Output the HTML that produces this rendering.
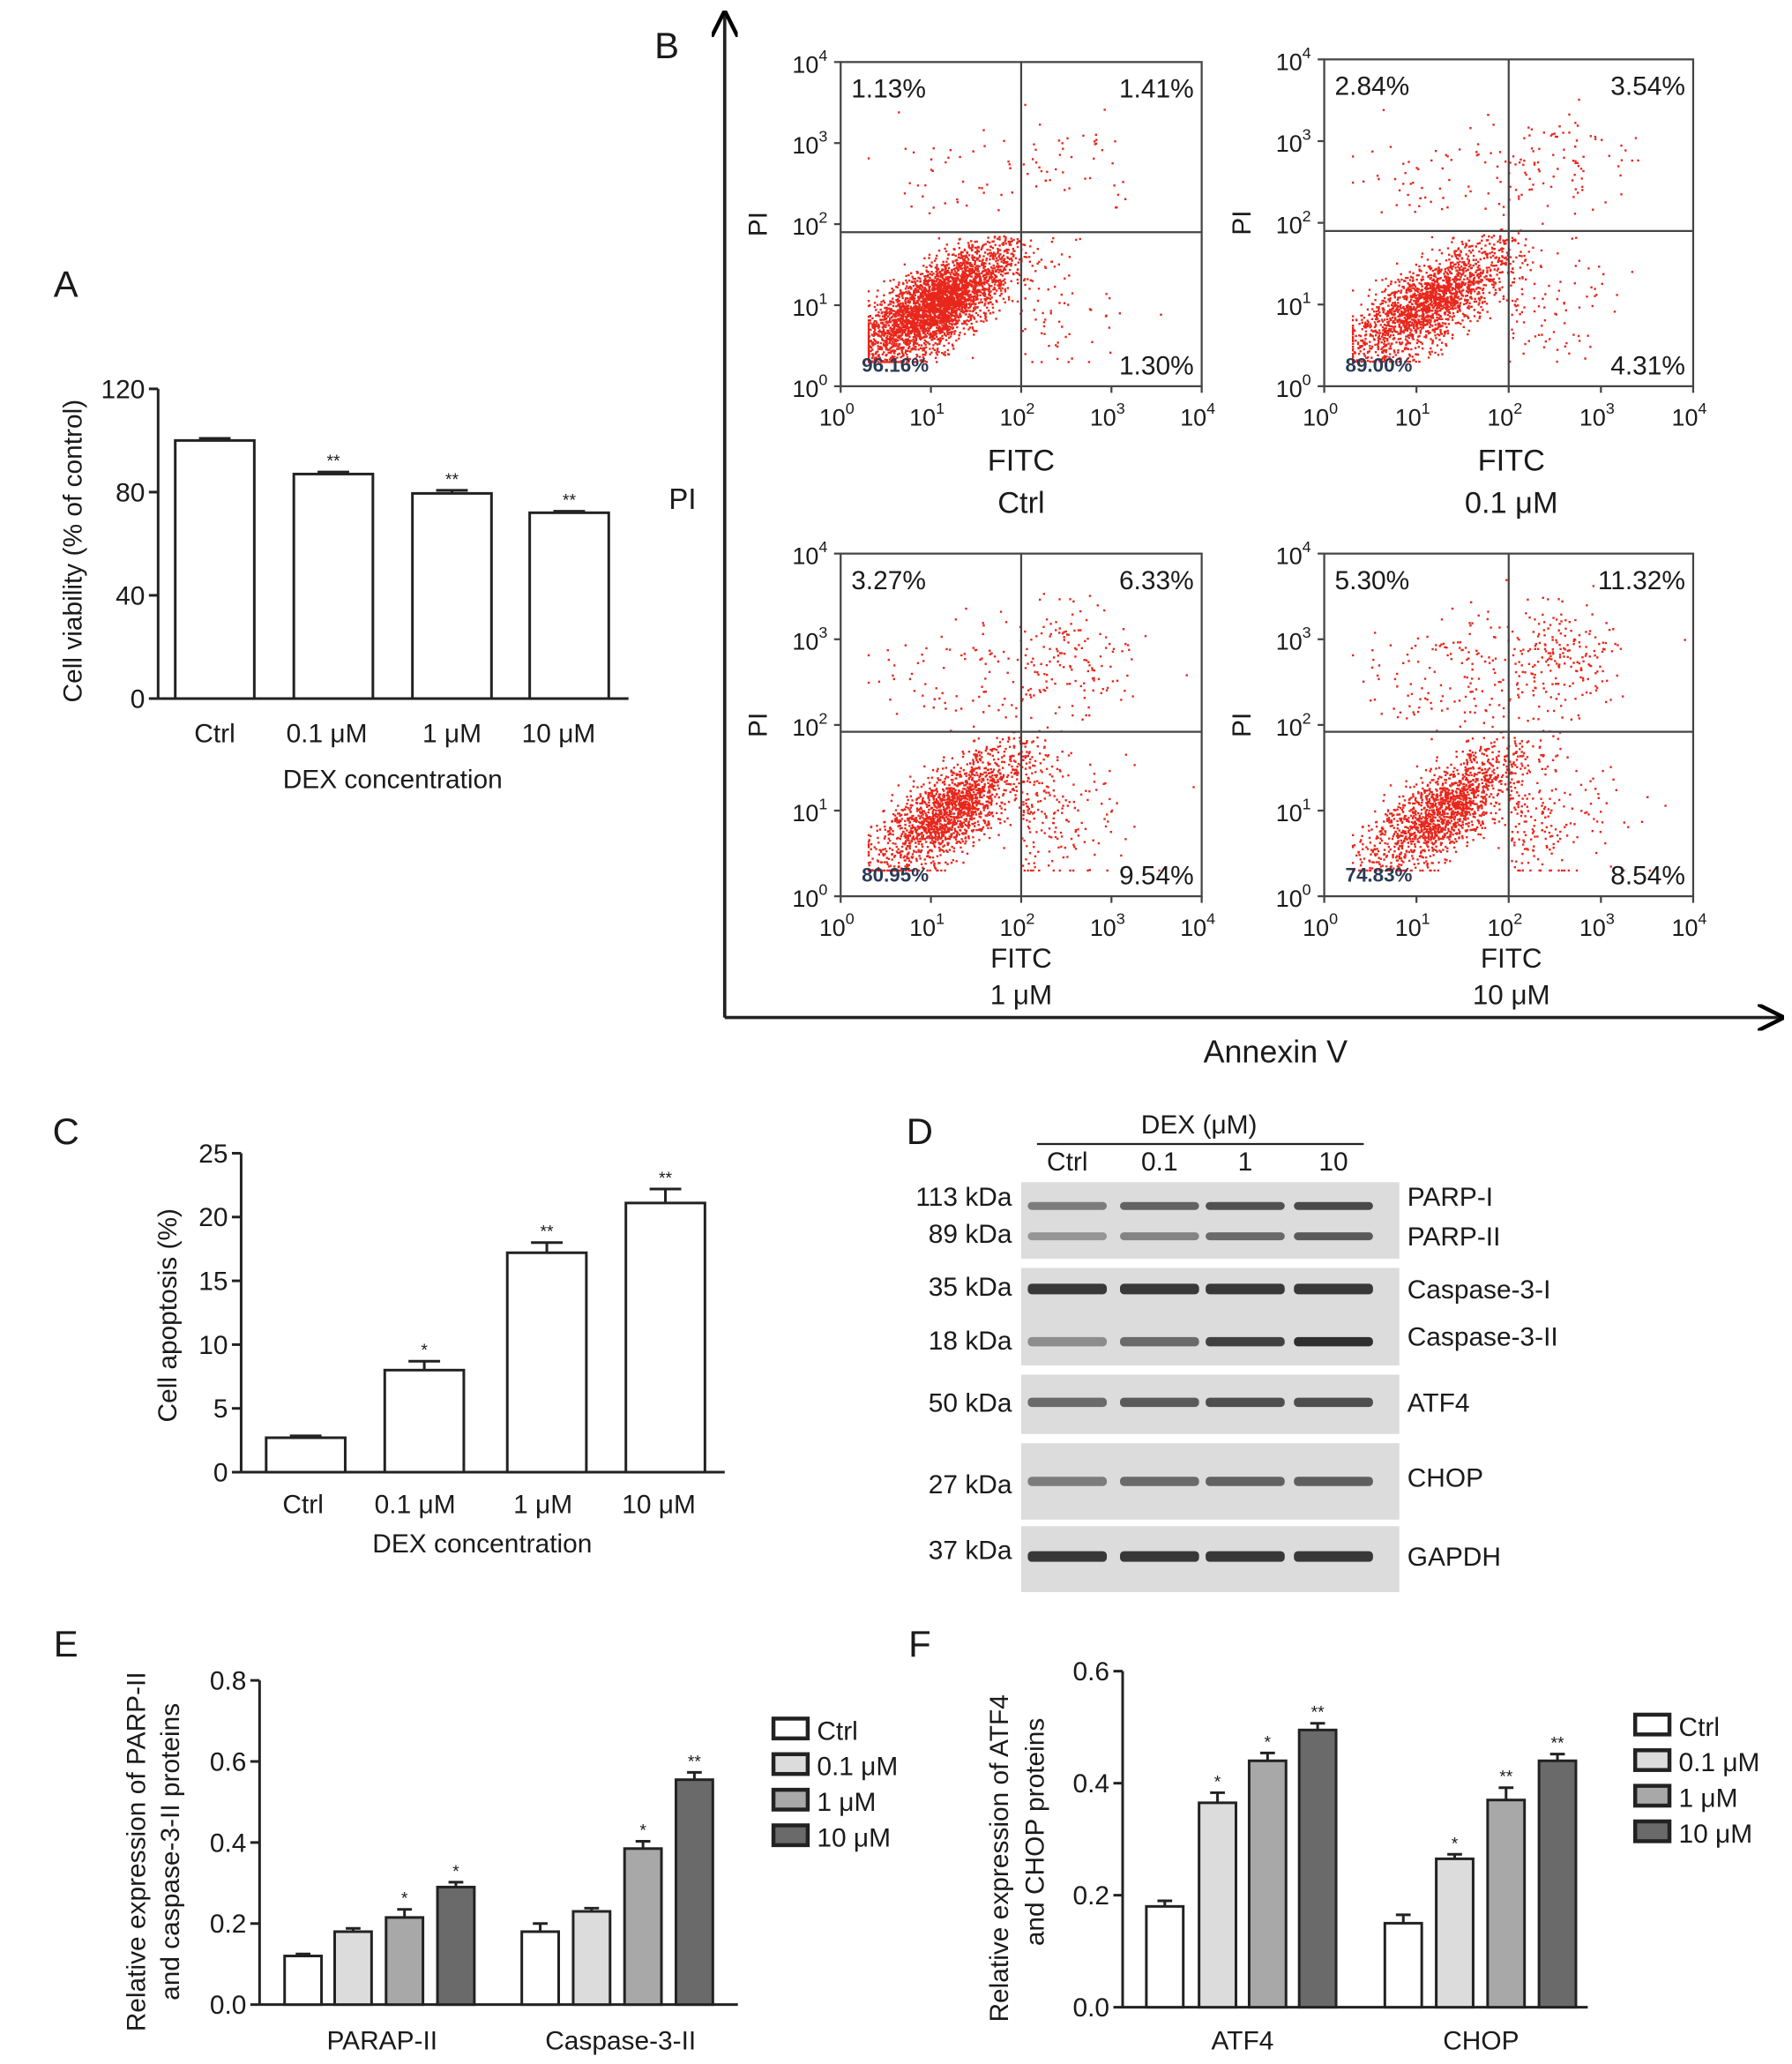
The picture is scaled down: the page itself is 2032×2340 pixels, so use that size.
<!DOCTYPE html>
<html><head><meta charset="utf-8"><style>
html,body{margin:0;padding:0;background:#fff;}
svg{display:block;font-family:"Liberation Sans",sans-serif;}
</style></head><body>
<svg id="fig" width="2032" height="2340" viewBox="0 0 1360 1566" xmlns="http://www.w3.org/2000/svg">
<defs>
<marker id="arr" viewBox="0 0 10 10" refX="9" refY="5" markerWidth="8" markerHeight="8" orient="auto"><path d="M0,0 L10,5 L0,10" fill="none" stroke="#000" stroke-width="1.5"/></marker>
</defs>
<g id="panelA"></g>
<g id="panelB"></g>
<g id="panelC"></g>
<g id="panelD"></g>
<g id="panelE"></g>
<g id="panelF"></g>
</svg>
<script>
// ---- data ----
const doseCats = ["Ctrl","0.1 μM","1 μM","10 μM"];
const viabilityVals = [100, 87, 79.5, 72];
const viabilityErr = [0.8, 0.8, 1.2, 0.6];
const viabilityStars = ["","**","**","**"];
const viabilityTicks = [0,40,80,120];
const apoptosisVals = [2.7, 8.0, 17.2, 21.1];
const apoptosisErr = [0.15, 0.7, 0.8, 1.1];
const apoptosisStars = ["","*","**","**"];
const apoptosisTicks = [0,5,10,15,20,25];
const eGroups = ["PARAP-II","Caspase-3-II"];
const eParp = [0.12, 0.18, 0.215, 0.29];
const eParpErr = [0.005, 0.008, 0.02, 0.012];
const eParpStars = ["","","*","*"];
const eCasp = [0.18, 0.23, 0.385, 0.555];
const eCaspErr = [0.02, 0.008, 0.018, 0.018];
const eCaspStars = ["","","*","**"];
const eTicks = [0.0,0.2,0.4,0.6,0.8];
const fGroups = ["ATF4","CHOP"];
const fAtf4 = [0.18, 0.365, 0.44, 0.495];
const fAtf4Err = [0.01, 0.018, 0.014, 0.012];
const fAtf4Stars = ["","*","*","**"];
const fChop = [0.15, 0.265, 0.37, 0.44];
const fChopErr = [0.015, 0.008, 0.022, 0.012];
const fChopStars = ["","*","**","**"];
const fTicks = [0.0,0.2,0.4,0.6];
const flowLabels = ["Ctrl","0.1 μM","1 μM","10 μM"];
const flowUL = [1.13, 2.84, 3.27, 5.30];
const flowUR = [1.41, 3.54, 6.33, 11.32];
const flowLL = [96.16, 89.00, 80.95, 74.83];
const flowLR = [1.30, 4.31, 9.54, 8.54];

const NS="http://www.w3.org/2000/svg";
function mk(parent,tag,attrs,name,text){
  const e=document.createElementNS(NS,tag);
  for(const k in attrs) e.setAttribute(k,attrs[k]);
  
  
  if(text!==undefined) e.textContent=text;
  parent.appendChild(e); return e;
}
function txt(p,x,y,s,size,anchor,name,extra){
  const a=Object.assign({x:x,y:y,'font-size':size,'text-anchor':anchor||'middle',fill:'#1a1a1a'},extra||{});
  return mk(p,'text',a,name,s);
}
const fills=["#ffffff","#dcdcdc","#a8a8a8","#6a6a6a"];

function barChart(g,cfg){
  const y=v=>cfg.y0-(v-cfg.vmin)/(cfg.vmax-cfg.vmin)*(cfg.y0-cfg.y1);
  mk(g,'line',{x1:cfg.x0,y1:cfg.y1,x2:cfg.x0,y2:cfg.y0,stroke:'#222','stroke-width':2},'y-axis');
  mk(g,'line',{x1:cfg.x0,y1:cfg.y0,x2:cfg.xEnd,y2:cfg.y0,stroke:'#222','stroke-width':2},'x-axis');
  cfg.ticks.forEach(t=>{
    mk(g,'line',{x1:cfg.x0-7,y1:y(t),x2:cfg.x0,y2:y(t),stroke:'#222','stroke-width':2},'y-tick');
    txt(g,cfg.x0-10,y(t)+7,cfg.fmt(t),20,'end','y-tick-label');
  });
  cfg.series.forEach(s=>{
    s.vals.forEach((v,i)=>{
      const cx=s.centers[i], w=s.width;
      const top=y(v);
      mk(g,'line',{x1:cx,y1:top,x2:cx,y2:y(v+s.err[i]),stroke:'#222','stroke-width':2},'error-bar');
      mk(g,'line',{x1:cx-w*0.2,y1:y(v+s.err[i]),x2:cx+w*0.2,y2:y(v+s.err[i]),stroke:'#222','stroke-width':2},'error-cap');
      mk(g,'rect',{x:cx-w/2,y:top,width:w,height:cfg.y0-top,fill:s.fills?s.fills[i]:'#fff',stroke:'#222','stroke-width':2},'bar-'+i);
      if(s.stars[i]) txt(g,cx,y(v+s.err[i])-4,s.stars[i],13,'middle','significance-mark');
    });
  });
}

(function(){
  const g=document.getElementById('panelA');
  txt(g,50,225,'A',28,'middle','panel-label-a');
  barChart(g,{x0:120,y0:530,y1:295,xEnd:477,vmin:0,vmax:120,ticks:viabilityTicks,fmt:t=>String(t),
    series:[{vals:viabilityVals,err:viabilityErr,stars:viabilityStars,centers:[163,253,343,432],width:60}]});
  doseCats.forEach((c,i)=>txt(g,[163,248,343,424][i],563,c,20,'middle','x-tick-label'));
  txt(g,298,598,'DEX concentration',20,'middle','x-axis-title');
  txt(g,0,0,'Cell viability (% of control)',20,'middle','y-axis-title',{transform:'translate(62,418) rotate(-90)'});
})();

(function(){
  const g=document.getElementById('panelC');
  txt(g,50,868,'C',28,'middle','panel-label-c');
  barChart(g,{x0:183,y0:1117,y1:875,xEnd:550,vmin:0,vmax:25,ticks:apoptosisTicks,fmt:t=>String(t),
    series:[{vals:apoptosisVals,err:apoptosisErr,stars:apoptosisStars,centers:[232,322,415,505],width:60}]});
  doseCats.forEach((c,i)=>txt(g,[230,315,412,500][i],1148,c,20,'middle','x-tick-label'));
  txt(g,366,1178,'DEX concentration',20,'middle','x-axis-title');
  txt(g,0,0,'Cell apoptosis (%)',20,'middle','y-axis-title',{transform:'translate(134,998) rotate(-90)'});
})();

(function(){
  const g=document.getElementById('panelE');
  txt(g,50,1257,'E',28,'middle','panel-label-e');
  barChart(g,{x0:197,y0:1521,y1:1275,xEnd:560,vmin:0,vmax:0.8,ticks:eTicks,fmt:t=>t.toFixed(1),
    series:[{vals:eParp,err:eParpErr,stars:eParpStars,centers:[230,268,307,346],width:28,fills:fills},
            {vals:eCasp,err:eCaspErr,stars:eCaspStars,centers:[410,449,488,527],width:28,fills:fills}]});
  txt(g,290,1555,eGroups[0],20,'middle','x-tick-label');
  txt(g,471,1555,eGroups[1],20,'middle','x-tick-label');
  txt(g,0,0,'Relative expression of PARP-II',20,'middle','y-axis-title',{transform:'translate(110,1405) rotate(-90)'});
  txt(g,0,0,'and caspase-3-II proteins',20,'middle','y-axis-title',{transform:'translate(136,1405) rotate(-90)'});
  doseCats.forEach((c,i)=>{
    mk(g,'rect',{x:587,y:1304+i*27,width:26,height:15,fill:fills[i],stroke:'#222','stroke-width':3},'legend-swatch');
    txt(g,620,1320+i*27,c,20,'start','legend-entry');
  });
})();

(function(){
  const g=document.getElementById('panelF');
  txt(g,698,1257,'F',28,'middle','panel-label-f');
  barChart(g,{x0:852,y0:1523,y1:1268,xEnd:1205,vmin:0,vmax:0.6,ticks:fTicks,fmt:t=>t.toFixed(1),
    series:[{vals:fAtf4,err:fAtf4Err,stars:fAtf4Stars,centers:[884,924,962,1000],width:28,fills:fills},
            {vals:fChop,err:fChopErr,stars:fChopStars,centers:[1065,1104,1143,1182],width:28,fills:fills}]});
  txt(g,943,1555,fGroups[0],20,'middle','x-tick-label');
  txt(g,1124,1555,fGroups[1],20,'middle','x-tick-label');
  txt(g,0,0,'Relative expression of ATF4',20,'middle','y-axis-title',{transform:'translate(765,1410) rotate(-90)'});
  txt(g,0,0,'and CHOP proteins',20,'middle','y-axis-title',{transform:'translate(792,1390) rotate(-90)'});
  doseCats.forEach((c,i)=>{
    mk(g,'rect',{x:1241,y:1301+i*27,width:26,height:15,fill:fills[i],stroke:'#222','stroke-width':3},'legend-swatch');
    txt(g,1274,1317+i*27,c,20,'start','legend-entry');
  });
})();

(function(){
  const g=document.getElementById('panelB');
  txt(g,506,44,'B',28,'middle','panel-label-b');
  mk(g,'line',{x1:550,y1:772,x2:550,y2:10,stroke:'#222','stroke-width':2.5,'marker-end':'url(#arr)'},'pi-axis-arrow');
  mk(g,'line',{x1:550,y1:772,x2:1352,y2:772,stroke:'#222','stroke-width':2.5,'marker-end':'url(#arr)'},'annexin-axis-arrow');
  txt(g,518,386,'PI',22,'middle','pi-axis-title');
  txt(g,968,806,'Annexin V',24,'middle','annexin-axis-title');
  const boxes=[[638,47,912,293],[1005,45,1285,293],[638,420,912,680],[1005,420,1285,680]];
  let seed=12345;
  function rnd(){seed=(seed*1103515245+12345)%2147483648;return seed/2147483648;}
  function gauss(){return Math.sqrt(-2*Math.log(rnd()+1e-9))*Math.cos(2*Math.PI*rnd());}
  boxes.forEach((b,k)=>{
    const [x0,y0,x1,y1]=b;
    const sx=v=>x0+v/4*(x1-x0), sy=v=>y1-v/4*(y1-y0);
    const sg=mk(g,'g',{},'scatter-plot-'+k);
    const N=6500; let d='';
    const tot=flowUL[k]+flowUR[k]+flowLL[k]+flowLR[k];
    const hq=k<2?1.9:1.92;
    for(let i=0;i<N;i++){
      const r=rnd()*tot; let lx,ly;
      if(r<flowLL[k]){const t=gauss()*0.42, u=gauss()*0.28;lx=1.05+0.08*k+t*0.9+u*0.45;ly=1.0+t*0.75-u*0.55;
        if(ly>hq-0.05) ly=hq-0.05-rnd()*0.3;}
      else if(r<flowLL[k]+flowLR[k]){lx=2.0+Math.abs(gauss())*0.55;ly=0.95+gauss()*0.4;}
      else if(r<flowLL[k]+flowLR[k]+flowUR[k]){lx=2.5+gauss()*0.4;ly=2.75+gauss()*0.3;}
      else {lx=1.3+gauss()*0.45;ly=2.55+gauss()*0.35;}
      lx=Math.max(0.3,Math.min(3.9,lx)); ly=Math.max(0.3,Math.min(3.9,ly));
      d+='M'+sx(lx).toFixed(1)+' '+sy(ly).toFixed(1)+'h1.6';
    }
    mk(sg,'path',{d:d,stroke:'#e8271c','stroke-width':1.6,fill:'none'},'scatter-dots');
    mk(sg,'rect',{x:x0,y:y0,width:x1-x0,height:y1-y0,fill:'none',stroke:'#444','stroke-width':1.5},'plot-frame');
    mk(sg,'line',{x1:sx(2),y1:y0,x2:sx(2),y2:y1,stroke:'#444','stroke-width':1.5},'quadrant-v-line');
    mk(sg,'line',{x1:x0,y1:sy(hq),x2:x1,y2:sy(hq),stroke:'#444','stroke-width':1.5},'quadrant-h-line');
    for(let e=0;e<=4;e++){
      mk(sg,'line',{x1:sx(e),y1:y1,x2:sx(e),y2:y1+5,stroke:'#444','stroke-width':1.5},'x-tick');
      mk(sg,'line',{x1:x0-5,y1:sy(e),x2:x0,y2:sy(e),stroke:'#444','stroke-width':1.5},'y-tick');
      const tx=txt(sg,sx(e)-3,y1+30,'10',18,'middle','x-tick-label');
      mk(tx,'tspan',{dy:-9,'font-size':12},'exponent',String(e));
      const ty=txt(sg,x0-10,sy(e)+8,'10',18,'end','y-tick-label');
      mk(ty,'tspan',{dy:-9,'font-size':12},'exponent',String(e));
    }
    txt(sg,0,0,'PI',20,'middle','y-axis-title',{transform:'translate('+(x0-56)+','+((y0+y1)/2)+') rotate(-90)'});
    const big=k<2;
    txt(sg,(x0+x1)/2+(k%2?2:0),y1+(big?64:54),'FITC',big?23:21,'middle','x-axis-title');
    txt(sg,(x0+x1)/2+(k%2?2:0),y1+(big?96:82),flowLabels[k],big?23:21,'middle','sample-label');
    txt(sg,x0+8,y0+27,flowUL[k].toFixed(2)+'%',20,'start','quadrant-ul-pct');
    txt(sg,x1-6,y0+27,flowUR[k].toFixed(2)+'%',20,'end','quadrant-ur-pct');
    txt(sg,x1-6,y1-9,flowLR[k].toFixed(2)+'%',20,'end','quadrant-lr-pct');
    txt(sg,x0+16,y1-11,flowLL[k].toFixed(2)+'%',15,'start','quadrant-ll-pct',{'font-weight':'bold',fill:'#2a3a55'});
  });
})();

(function(){
  const g=document.getElementById('panelD');
  txt(g,698,868,'D',28,'middle','panel-label-d');
  txt(g,910,860,'DEX (μM)',20,'middle','dex-header');
  mk(g,'line',{x1:787,y1:868,x2:1035,y2:868,stroke:'#222','stroke-width':1.5},'header-line');
  const lanes=[810,880,945,1012];
  ['Ctrl','0.1','1','10'].forEach((l,i)=>txt(g,lanes[i],888,l,20,'middle','lane-label'));
  const blots=[[897,955],[962,1036],[1043,1088],[1095,1153],[1158,1208]];
  blots.forEach((b,i)=>mk(g,'rect',{x:775,y:b[0],width:287,height:b[1]-b[0],fill:'#dcdcdc'},'blot-strip'));
  const bands=[
    {y:915,h:6,int:[0.45,0.6,0.7,0.75],kda:'113 kDa',lab:'PARP-I',ly:915},
    {y:938,h:6,int:[0.3,0.4,0.55,0.65],kda:'89 kDa',lab:'PARP-II',ly:945},
    {y:978,h:8,int:[0.85,0.85,0.85,0.85],kda:'35 kDa',lab:'Caspase-3-I',ly:985},
    {y:1018,h:7,int:[0.35,0.55,0.8,0.9],kda:'18 kDa',lab:'Caspase-3-II',ly:1021},
    {y:1064,h:7,int:[0.55,0.65,0.72,0.72],kda:'50 kDa',lab:'ATF4',ly:1071},
    {y:1124,h:7,int:[0.45,0.55,0.6,0.62],kda:'27 kDa',lab:'CHOP',ly:1128},
    {y:1181,h:8,int:[0.85,0.85,0.85,0.85],kda:'37 kDa',lab:'GAPDH',ly:1188}];
  const kdaY=[915,943,983,1024,1071,1133,1183];
  bands.forEach((b,j)=>{
    b.int.forEach((v,i)=>{
      const c=Math.round(200-v*170);
      mk(g,'rect',{x:lanes[i]-30,y:b.y-b.h/2,width:60,height:b.h,rx:3,fill:'rgb('+c+','+c+','+c+')'},'band');
    });
    txt(g,768,kdaY[j],b.kda,20,'end','mw-label');
    txt(g,1068,b.ly,b.lab,20,'start','protein-label');
  });
})();
</script>
</body></html>
